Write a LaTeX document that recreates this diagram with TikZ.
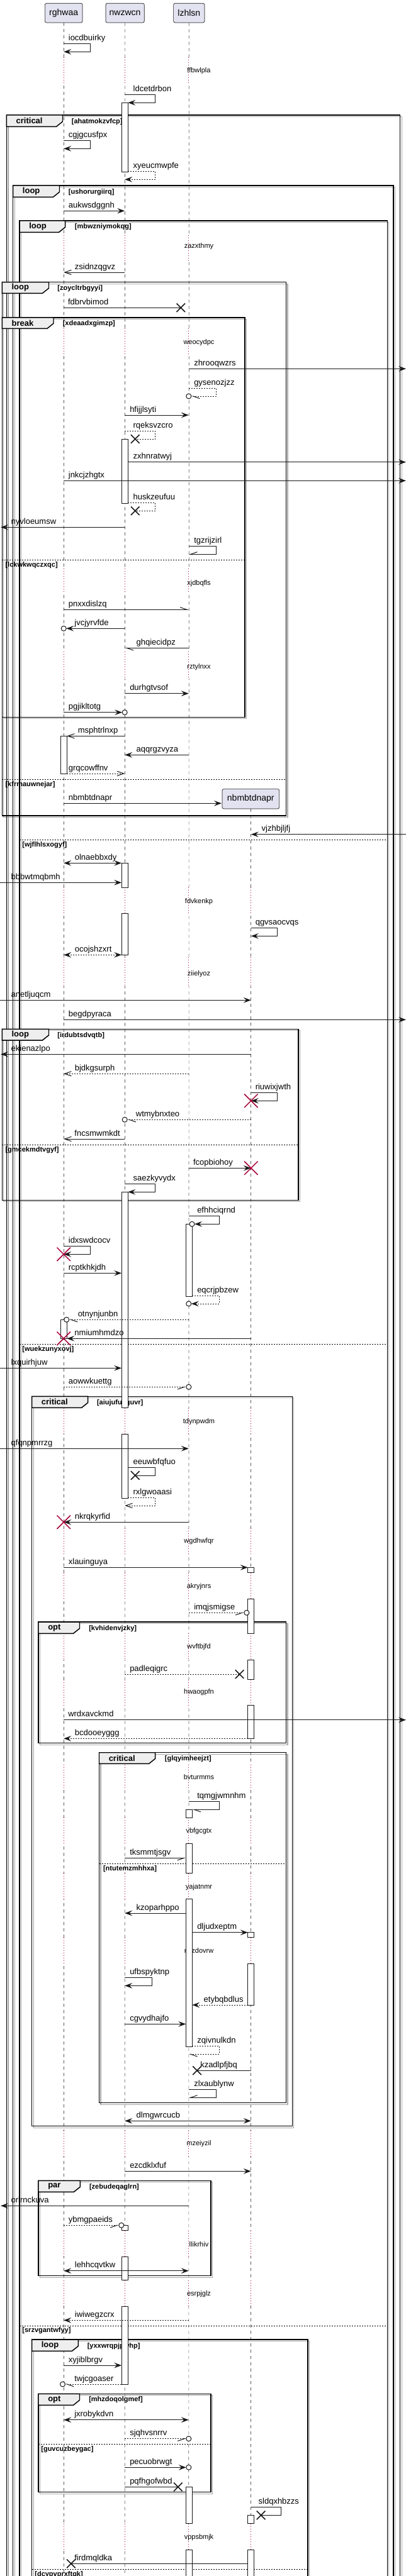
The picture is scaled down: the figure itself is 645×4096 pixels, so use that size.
\documentclass[tikz,border=0pt]{standalone}
\usepackage{fontspec}
\setmainfont{Liberation Sans}
\usetikzlibrary{arrows.meta,shapes.misc}
\definecolor{pfill}{HTML}{E2E2F0}
\definecolor{pline}{HTML}{181818}
\definecolor{tabfill}{HTML}{EEEEEE}
\definecolor{dlyc}{HTML}{A80036}
\newcounter{m}\newcounter{k}
\def\xA{101.2}\def\xB{198.2}\def\xC{299.8}\def\xD{398.8}
\newcommand\M[6]{\stepcounter{m}%
 \coordinate (m\arabic{m}s) at (#2,#4);%
 \coordinate (m\arabic{m}e) at (#3,#4);%
 \draw[msg,#1] (m\arabic{m}s) -- (m\arabic{m}e);%
 \node[lbl] (l\arabic{m}) at (#5,#4-5) {#6};}
\newcommand\SM[8]{\stepcounter{m}%
 \coordinate (m\arabic{m}s) at (#2,#5);%
 \coordinate (m\arabic{m}e) at (#4,#6);%
 \draw[msg,#1] (m\arabic{m}s) -- (#3,#5) -- (#3,#6) -- (m\arabic{m}e);%
 \node[lbl] (l\arabic{m}) at (#7,#5-5) {#8};}
\newcommand\Circ[2]{\stepcounter{k}\node[circ] (c\arabic{k}) at (#1,#2) {};}
\newcommand\LX[2]{\stepcounter{k}\node[lostx] (x\arabic{k}) at (#1,#2) {};}
\newcommand\KX[2]{\stepcounter{k}\node[killx] (x\arabic{k}) at (#1,#2) {};}
\newcommand\ActBar[3]{\draw[actbar] (#1-5,#2) rectangle (#1+5,#3);}
\newcommand\Delay[5]{\foreach \xx in {#5}{\draw[white,line width=1.5pt] (\xx,#1) -- (\xx,#2); \draw[dlyline] (\xx,#1) -- (\xx,#2);}%
 \stepcounter{k}\node[dtx] (d\arabic{k}) at (316,#3) {#4};}
\newcommand\Tab[5]{\stepcounter{k}\draw[grpframe,fill=tabfill] (#1,#2) -- (#3,#2) -- (#3,#4-8) -- (#3-10,#4) -- (#1,#4) -- cycle;%
 \node[tabl] (t\arabic{k}) at (#1+15,{(#2+#4)/2}) {#5};}
\newcommand\Guard[3]{\stepcounter{k}\node[grd] (g\arabic{k}) at (#1,#2) {[#3]};}
\newcommand\Else[5]{\draw[elseline] (#1,#3) -- (#2,#3); \Guard{#4}{#3+8}{#5}}
\newcommand\Sh[4]{\draw[grpshadow] (#1+2.5,#2+2.5) rectangle (#3+2.5,#4+2.5);}
\newcommand\OSh[3]{\draw[grpshadow] (#1+2.5,4110) -- (#1+2.5,#2+2.5) -- (#3+2.5,#2+2.5) -- (#3+2.5,4110);}
\newcommand\Fr[4]{\draw[grpframe] (#1,#2) rectangle (#3,#4);}
\newcommand\OFr[3]{\draw[grpframe] (#1,4110) -- (#1,#2) -- (#3,#2) -- (#3,4110);}
\begin{document}
\begin{tikzpicture}[x=0.75pt,y=-0.75pt,
 msg/.style={draw=pline, line width=0.75pt},
 dsh/.style={dash pattern=on 1.5pt off 1.5pt},
 fa/.style={-{Stealth[length=9pt,width=6.5pt,inset=3.5pt]}},
 fab/.style={{Stealth[length=9pt,width=6.5pt,inset=3.5pt]}-{Stealth[length=9pt,width=6.5pt,inset=3.5pt]}},
 oa/.style={-{Straight Barb[length=8pt,width=5.5pt]}},
 oal/.style={-{Straight Barb[length=8pt,width=5.5pt,left]}},
 oar/.style={-{Straight Barb[length=8pt,width=5.5pt,right]}},
 circ/.style={circle, draw=pline, fill=white, line width=0.75pt, minimum size=6pt, inner sep=0pt},
 lostx/.style={cross out, draw=pline, line width=1.2pt, minimum size=9pt, inner sep=0pt},
 killx/.style={cross out, draw=dlyc, line width=1.1pt, minimum size=15pt, inner sep=0pt},
 life/.style={draw=pline!70, line width=0.5pt, dash pattern=on 3.75pt off 3.75pt},
 dlyline/.style={draw=dlyc, line width=0.75pt, dash pattern=on 0.75pt off 2.25pt},
 actbar/.style={draw=pline, fill=white, line width=0.75pt},
 grpframe/.style={draw=black, line width=1.1pt},
 grpshadow/.style={draw=black!35, line width=0.9pt},
 elseline/.style={draw=black, line width=0.75pt, dash pattern=on 1.5pt off 1.5pt},
 lbl/.style={anchor=base west, inner sep=0pt, font=\fontsize{9.75pt}{11pt}\selectfont},
 dtx/.style={inner sep=0pt, font=\fontsize{8.25pt}{10pt}\selectfont},
 grd/.style={anchor=west, inner sep=0pt, font=\bfseries\fontsize{8.25pt}{10pt}\selectfont},
 tabl/.style={anchor=west, inner sep=0pt, font=\bfseries\fontsize{9.75pt}{11pt}\selectfont},
 part/.style={draw=pline, fill=pfill, rounded corners=1.9pt, line width=0.5pt, inner sep=0pt, font=\fontsize{10.5pt}{12pt}\selectfont}]
\useasboundingbox (0,0) rectangle (645,4096);
% participants
\node[part, minimum width=44.8pt, minimum height=23pt] (pA) at (101.2,20.65) {rghwaa};
\node[part, minimum width=46pt, minimum height=23pt] (pB) at (198.6,20.65) {nwzwcn};
\node[part, minimum width=37pt, minimum height=23pt] (pC) at (300.3,20.65) {lzhlsn};
\draw[life] (pA.south) -- (\xA,4110);
\draw[life] (pB.south) -- (\xB,4110);
\draw[life] (pC.south) -- (\xC,4110);
\draw[life] (\xD,1286) -- (\xD,4110);
% delays
\Delay{90.7}{131.7}{112.3}{ffbwlpla}{\xA,\xB,\xC}
\Delay{374}{417}{391.3}{zazxthmy}{\xA,\xB,\xC}
\Delay{522}{563.7}{544.3}{weocydpc}{\xA,\xB,\xC}
\Delay{904}{940.7}{927.3}{xjdbqfls}{\xA,\xB,\xC}
\Delay{1036}{1079.3}{1060.3}{rztylnxx}{\xA,\xB,\xC}
\Delay{1411.3}{1452.3}{1433.3}{fdvkenkp}{\xA,\xB,\xC,\xD}
\Delay{1522}{1568}{1548.3}{ziielyoz}{\xA,\xB,\xC,\xD}
\Delay{2238.7}{2280.3}{2260.3}{tdynpwdm}{\xA,\xB,\xC,\xD}
\Delay{2430}{2471}{2450.7}{wgdhwfqr}{\xA,\xB,\xC,\xD}
\Delay{2500.7}{2542.3}{2522.3}{akryjnrs}{\xA,\xB,\xC,\xD}
\Delay{2597.3}{2639}{2619}{wvftbjfd}{\xA,\xB,\xC,\xD}
\Delay{2670.7}{2711.3}{2690.7}{hwaogpfn}{\xA,\xB,\xC,\xD}
\Delay{2806}{2846}{2826}{bvturmms}{\xA,\xB,\xC,\xD}
\Delay{2890.3}{2931}{2912}{vbfgcgtx}{\xA,\xB,\xC,\xD}
\Delay{2978.7}{3019.3}{3000.3}{yajatnmr}{\xA,\xB,\xC,\xD}
\Delay{3080.7}{3122}{3102}{nczdovrw}{\xA,\xB,\xC,\xD}
\Delay{3388}{3429}{3409}{mzeiyzil}{\xA,\xB,\xC,\xD}
\Delay{3546.7}{3588.3}{3568}{llikrhiv}{\xA,\xB,\xC,\xD}
\Delay{3625.7}{3667.3}{3647.7}{esrpjglz}{\xA,\xB,\xC,\xD}
\Delay{4012.7}{4054.3}{4034.7}{vppsbmjk}{\xA,\xB,\xC,\xD}
% frame shadows
\OSh{10.4}{183}{635.6}\OSh{20.7}{295}{625.2}\OSh{31.1}{351}{615.3}
\Sh{3.3}{448.7}{454.4}{1297}\Sh{3.3}{505}{388.9}{1140.3}\Sh{3.3}{1636.3}{473.9}{1908.3}
\Sh{50.6}{2220.3}{464.3}{3380.7}\Sh{61}{2579}{454.4}{2771.7}\Sh{157.5}{2786.7}{454.4}{3343.7}
\Sh{61}{3467.3}{335}{3618.7}\OSh{50.6}{3720}{489.2}\Sh{61}{3806.3}{335}{3962.7}
% frames
\OFr{10.4}{183}{635.6}
\Tab{10.4}{183}{99.5}{201.3}{critical}\Guard{113.6}{193.3}{ahatmokzvfcp}
\OFr{20.7}{295}{625.2}
\Tab{20.7}{295}{94.5}{313.3}{loop}\Guard{108.6}{305.3}{ushorurgiirq}
\OFr{31.1}{351}{615.3}
\Tab{31.1}{351}{103.6}{369.3}{loop}\Guard{118.6}{360.3}{mbwzniymokqg}
\Else{31.1}{615.3}{1335.3}{35.2}{wjflhlsxogyf}
\Else{31.1}{615.3}{2137.3}{35.2}{wuekzunyxovj}
\Else{31.1}{615.3}{3698}{35.2}{srzvgantwfyy}
\Fr{3.3}{448.7}{454.4}{1297}
\Tab{3.3}{448.7}{77.5}{466.3}{loop}\Guard{91.2}{458.7}{zoycltrbgyyi}
\Else{3.3}{454.4}{1239.3}{8.3}{kfrmauwnejar}
\Fr{3.3}{505}{388.9}{1140.3}
\Tab{3.3}{505}{85}{522.3}{break}\Guard{99.5}{514.3}{xdeaadxgimzp}
\Else{3.3}{388.9}{890.3}{8.3}{lckwkwqczxqc}
\Fr{3.3}{1636.3}{473.9}{1908.3}
\Tab{3.3}{1636.3}{77.5}{1654}{loop}\Guard{91.2}{1646.3}{irdubtsdvqtb}
\Else{3.3}{473.9}{1820.3}{8.3}{gmcekmdtvgyf}
\Fr{50.6}{2220.3}{464.3}{3380.7}
\Tab{50.6}{2220.3}{139.7}{2238.3}{critical}\Guard{153.8}{2230.3}{aiujufuaguvr}
\Fr{61}{2579}{454.4}{2771.7}
\Tab{61}{2579}{126.5}{2597.3}{opt}\Guard{141}{2589.7}{kvhidenvjzky}
\Fr{157.5}{2786.7}{454.4}{3343.7}
\Tab{157.5}{2786.7}{246.7}{2804.3}{critical}\Guard{261.6}{2796.7}{glqyimheejzt}
\Else{157.5}{454.4}{2963.3}{163.8}{ntutemzmhhxa}
\Fr{61}{3467.3}{335}{3618.7}
\Tab{61}{3467.3}{127.3}{3485.3}{par}\Guard{141.8}{3477.3}{zebudeqaglrn}
\OFr{50.6}{3720}{489.2}
\Tab{50.6}{3720}{124.4}{3738.3}{loop}\Guard{138.5}{3730.7}{yxxwrqpjpwhp}
\Else{50.6}{489.2}{4085.3}{55.1}{dcypvprxftqk}
\Fr{61}{3806.3}{335}{3962.7}
\Tab{61}{3806.3}{126.5}{3824.3}{opt}\Guard{141}{3816}{mhzdoqolgmef}
\Else{61}{335}{3886.3}{65.1}{guvcuzbeygac}
% created participant
\node[part, minimum width=68pt, minimum height=23.5pt] (pD) at (398.3,1270.3) {nbmbtdnapr};
% activation bars
\ActBar{198.2}{163.3}{273.3}\ActBar{198.2}{698}{800.7}\ActBar{198.2}{1372.3}{1411.3}
\ActBar{198.2}{1452.3}{1518.3}\ActBar{198.2}{1895.3}{2238.7}\ActBar{198.2}{2280.3}{2382}
\ActBar{198.2}{3538.3}{3546.7}\ActBar{198.2}{3588.3}{3625.7}\ActBar{198.2}{3667.3}{3791}
\ActBar{101.2}{1170.3}{1230}\ActBar{101.2}{2098.3}{2128.3}
\ActBar{300.3}{1946.3}{2061.3}\ActBar{300.3}{2877.3}{2890.3}\ActBar{300.3}{2931}{2978.7}
\ActBar{300.3}{3019.3}{3254}\ActBar{300.3}{3954.3}{4012.7}\ActBar{300.3}{4054.3}{4110}
\ActBar{398.8}{2492.3}{2500.7}\ActBar{398.8}{2542.3}{2597.3}\ActBar{398.8}{2639}{2670.7}
\ActBar{398.8}{2711.3}{2764.3}\ActBar{398.8}{3072.7}{3080.7}\ActBar{398.8}{3122}{3188}
\ActBar{398.8}{3999.3}{4012.7}\ActBar{398.8}{4054.3}{4110}
% messages
\SM{fa}{\xA}{143.5}{\xA}{69.7}{82.3}{108.6}{iocdbuirky}
\SM{fa}{\xB}{246.7}{203.2}{150.7}{163.3}{211.4}{ldcetdrbon}
\SM{fa}{\xA}{143.5}{\xA}{223.7}{236.3}{108.6}{cgjgcusfpx}
\SM{fa,dsh}{203.2}{246.7}{\xB}{272.7}{285.3}{211.4}{xyeucmwpfe}
\M{fa}{\xA}{\xB}{335.3}{108.6}{aukwsdggnh}
\M{oa}{\xB}{\xA}{433}{118.6}{zsidnzqgvz}
\M{}{\xA}{287.3}{489.3}{107.8}{fdbrvbimod}\LX{287.3}{489.3}
\M{fa}{\xC}{645}{586.3}{308}{zhrooqwzrs}
\SM{oal,dsh}{\xC}{343.3}{\xC+4}{617.3}{630}{308}{gysenozjzz}\Circ{\xC}{630}
\M{fa}{\xB}{\xC}{660}{206}{hfijjlsyti}
\SM{dsh}{\xB}{246.7}{214.8}{685.3}{698}{211.4}{rqeksvzcro}\LX{214.8}{698}
\M{fa}{203.2}{645}{734.7}{211.4}{zxhnratwyj}
\M{fa}{\xA}{645}{764.3}{108.6}{jnkcjzhgtx}
\SM{dsh}{203.2}{246.7}{214.8}{799.7}{812.3}{211.4}{huskzeufuu}\LX{214.8}{812.3}
\M{fa}{\xB}{1}{838.3}{17.4}{nyvloeumsw}
\SM{oar}{\xC}{343.3}{\xC}{868.7}{881.3}{308}{tgzrijzirl}
\M{oal}{\xA}{\xC}{969.3}{108.6}{pnxxdislzq}
\M{fa}{\xB}{\xA+4}{999.3}{118.2}{jvcjyrvfde}\Circ{\xA}{999.3}
\M{oal}{\xC}{\xB}{1030.3}{216.4}{ghqiecidpz}
\M{fa}{\xB}{\xC}{1102.7}{206}{durhgtvsof}
\M{fa}{\xA}{\xB-4}{1132.7}{108.6}{pgjikltotg}\Circ{\xB}{1132.7}
\M{oa}{\xB}{106.2}{1170.3}{123.5}{msphtrlnxp}
\M{fa}{\xC}{\xB}{1200.3}{216.4}{aqqrgzvyza}
\M{oa,dsh}{106.2}{\xB}{1230}{108.6}{grqcowffnv}
\M{fa}{\xA}{352}{1277.3}{108.6}{nbmbtdnapr}
\M{fa}{645}{\xD}{1326.7}{415.4}{vjzhbjljfj}
\M{fab}{\xA}{193.2}{1372.3}{118.6}{olnaebbxdy}
\M{fa}{0}{193.2}{1403.3}{17.4}{bbbwtmqbmh}
\SM{fa}{\xD}{440.7}{\xD}{1475.3}{1488.3}{405.5}{qgvsaocvqs}
\M{fab,dsh}{\xA}{193.2}{1518.3}{118.6}{ocojshzxrt}
\M{fa}{0}{\xD}{1590.3}{17.4}{anetljuqcm}
\M{fa}{\xA}{645}{1621.3}{108.6}{begdpyraca}
\M{fa}{\xD}{1}{1676.3}{17.4}{ekienazlpo}
\M{oa,dsh}{\xC}{\xA}{1707.3}{118.6}{bjdkgsurph}
\SM{fa}{\xD}{440.7}{\xD}{1737.3}{1750.3}{405.5}{riuwixjwth}\KX{\xD}{1750.3}
\M{oal,dsh}{\xD}{\xB+4}{1780.3}{215.6}{wtmybnxteo}\Circ{\xB}{1780.3}
\M{oa}{\xB}{\xA}{1811}{118.2}{fncsmwmkdt}
\M{fa}{\xC}{\xD}{1857.3}{306.8}{fcopbiohoy}\KX{\xD}{1857.3}
\SM{fa}{\xB}{246.7}{203.2}{1882.3}{1895.3}{211.4}{saezkyvydx}
\SM{fa}{\xC}{348.3}{309}{1933.3}{1946.3}{313}{efhhciqrnd}\Circ{305}{1946.3}
\SM{fa}{\xA}{143.5}{\xA}{1981.3}{1994.3}{108.6}{idxswdcocv}\KX{\xA}{1994.3}
\M{fa}{\xA}{193.2}{2024.3}{108.6}{rcptkhkjdh}
\SM{fa,dsh}{305.3}{348.3}{\xC+4}{2060.3}{2073}{313}{eqcrjpbzew}\Circ{\xC}{2073}
\M{oal,dsh}{\xC}{109.7}{2098.3}{123.5}{otnynjunbn}\Circ{105.7}{2098.3}
\M{fa}{\xD}{106.2}{2128.3}{118.2}{nmiumhmdzo}\KX{\xA}{2128.3}
\M{fa}{0}{193.2}{2175.3}{17.4}{lxquirhjuw}
\M{oar,dsh}{\xA}{\xC-4}{2205.3}{108.6}{aowwkuettg}\Circ{\xC}{2205.3}
\M{fa}{0}{\xC}{2303.3}{17.4}{qfqnpmrrzg}
\SM{}{203.2}{246.7}{214.8}{2333.7}{2346}{211.4}{eeuwbfqfuo}\LX{214.8}{2346}
\SM{oa,dsh}{203.2}{246.7}{\xB}{2381.3}{2394}{211.4}{rxlgwoaasi}
\M{fa}{\xC}{\xA}{2420.3}{118.6}{nkrqkyrfid}\KX{\xA}{2420.3}
\M{fa}{\xA}{393.8}{2492.3}{108.6}{xlauinguya}
\M{oar,dsh}{\xC}{387.8}{2564.3}{308}{imqjsmigse}\Circ{391.8}{2564.3}
\M{dsh}{\xB}{380.6}{2662}{206}{padleqigrc}\LX{380.6}{2662}
\M{fa}{\xA}{645}{2734.7}{108}{wrdxavckmd}
\M{fa,dsh}{393.8}{\xA}{2764.3}{118.6}{bcdooeyggg}
\SM{oal}{\xC}{348.3}{305.3}{2864.3}{2877.3}{313}{tqmgjwmnhm}
\M{oar}{\xB}{295.3}{2954.3}{206}{tksmmtjsgv}
\M{fa}{295.3}{\xB}{3042}{216.4}{kzoparhppo}
\M{fa}{305.3}{393.8}{3072.7}{313}{dljudxeptm}
\SM{fa}{\xB}{241.3}{\xB}{3144.3}{3157.3}{206}{ufbspyktnp}
\M{fa,dsh}{393.8}{305.3}{3188}{323.4}{etybqbdlus}
\M{fa}{\xB}{295.3}{3218.3}{206}{cgvydhajfo}
\SM{oal,dsh}{305.3}{348.3}{\xC}{3253.3}{3266.3}{313}{zqivnulkdn}
\M{}{\xD}{313}{3292.3}{318}{kzadlpfjbq}\LX{313}{3292.3}
\SM{oar}{\xC}{343.3}{\xC}{3322.7}{3335.3}{308}{zlxaublynw}
\M{fab}{\xB}{\xD}{3372.3}{216.4}{dlmgwrcucb}
\M{fa}{\xB}{\xD}{3452.3}{206}{ezcdklxfuf}
\M{fa}{\xC}{1}{3507.3}{17.4}{orlrnckuva}
\M{oar,dsh}{\xA}{188.8}{3538.3}{108.6}{ybmgpaeids}\Circ{192.8}{3538.3}
\M{fab}{\xA}{\xC}{3610.7}{118.6}{lehhcqvtkw}
\M{fa,dsh}{\xC}{\xA}{3689.3}{118.6}{iwiwegzcrx}
\M{fa}{\xA}{193.2}{3761}{108.6}{xyjiblbrgv}
\M{oal,dsh}{193.2}{103.5}{3791}{118}{twjcgoaser}\Circ{99.5}{3791}
\M{fab}{\xA}{\xC}{3847.7}{118}{jxrobykdvn}
\M{oar,dsh}{\xB}{\xC-4}{3877.7}{206}{sjqhvsnrrv}\Circ{\xC}{3877.7}
\M{fa}{\xB}{\xC-4}{3923.3}{206}{pecuobrwgt}\Circ{\xC}{3923.3}
\M{}{\xB}{282.8}{3954.3}{206}{pqfhgofwbd}\LX{282.8}{3954.3}
\SM{}{\xD}{446}{414.6}{3986.7}{3999.3}{410.4}{sldqxhbzzs}\LX{414.6}{3999.3}
\M{}{393.8}{112.8}{4076.3}{118}{firdmqldka}\LX{112.8}{4076.3}
\end{tikzpicture}
\end{document}
